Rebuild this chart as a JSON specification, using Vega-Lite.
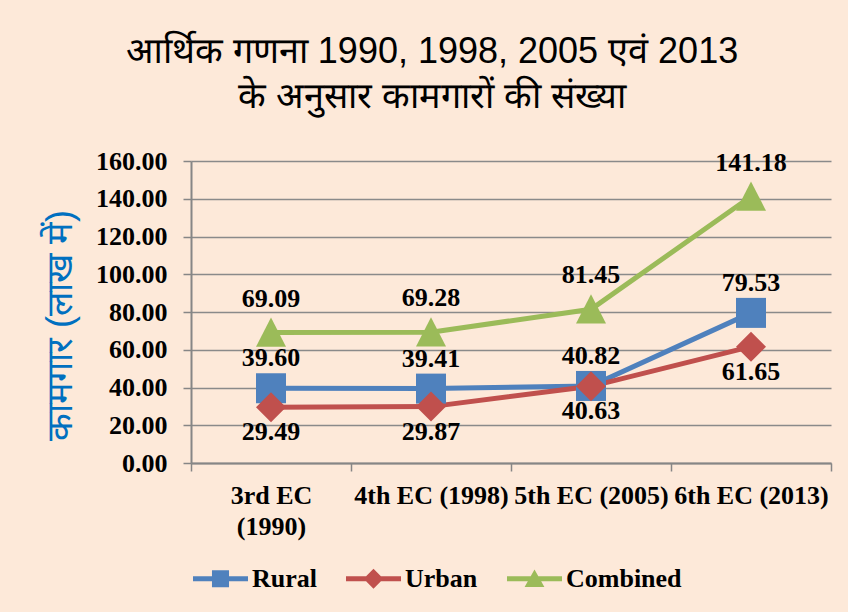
{
  "$schema": "https://vega.github.io/schema/vega-lite/v6.json",
  "autosize": "none",
  "width": 640,
  "height": 302,
  "padding": {"left": 191, "top": 161, "right": 17, "bottom": 149},
  "background": "#FDE9D9",
  "config": {"view": {"stroke": null}},
  "title": {
    "text": ["आर्थिक गणना 1990, 1998, 2005 एवं 2013", "के अनुसार कामगारों की संख्या"],
    "font": "Liberation Sans",
    "fontSize": 36,
    "fontWeight": "normal",
    "color": "#000000",
    "lineHeight": 45,
    "anchor": "middle",
    "frame": "group",
    "dx": -79,
    "offset": 32
  },
  "data": {
    "values": [
      {"ec": "3rd EC (1990)", "series": "Rural", "value": 39.60},
      {"ec": "4th EC (1998)", "series": "Rural", "value": 39.41},
      {"ec": "5th EC (2005)", "series": "Rural", "value": 40.82},
      {"ec": "6th EC (2013)", "series": "Rural", "value": 79.53},
      {"ec": "3rd EC (1990)", "series": "Urban", "value": 29.49},
      {"ec": "4th EC (1998)", "series": "Urban", "value": 29.87},
      {"ec": "5th EC (2005)", "series": "Urban", "value": 40.63},
      {"ec": "6th EC (2013)", "series": "Urban", "value": 61.65},
      {"ec": "3rd EC (1990)", "series": "Combined", "value": 69.09},
      {"ec": "4th EC (1998)", "series": "Combined", "value": 69.28},
      {"ec": "5th EC (2005)", "series": "Combined", "value": 81.45},
      {"ec": "6th EC (2013)", "series": "Combined", "value": 141.18}
    ]
  },
  "encoding": {
    "x": {
      "field": "ec", "type": "nominal", "sort": null,
      "scale": {"type": "band", "paddingInner": 0, "paddingOuter": 0},
      "axis": {
        "title": null,
        "labelAngle": 0,
        "labelFont": "Liberation Serif",
        "labelFontSize": 26,
        "labelFontWeight": "bold",
        "labelColor": "#000000",
        "labelPadding": 11,
        "labelLineHeight": 31,
        "labelOverlap": false,
        "labelBound": false,
        "labelLimit": 0,
        "labelExpr": "datum.label == '3rd EC (1990)' ? ['3rd EC', '(1990)'] : datum.label",
        "tickBand": "extent",
        "tickSize": 8,
        "tickColor": "#868686",
        "tickWidth": 1.5,
        "domainColor": "#868686",
        "domainWidth": 2,
        "grid": false
      }
    },
    "y": {
      "field": "value", "type": "quantitative",
      "scale": {"domain": [0, 160], "nice": false},
      "axis": {
        "title": "कामगार (लाख में)",
        "titleFontSize": 36,
        "titleColor": "#0070C0",
        "titleFontWeight": "normal",
        "titleAngle": -90,
        "titleAlign": "center",
        "titleBaseline": "middle",
        "titleX": -131,
        "titleY": 164,
        "values": [0, 20, 40, 60, 80, 100, 120, 140, 160],
        "format": ".2f",
        "labelFont": "Liberation Serif",
        "labelFontSize": 26,
        "labelFontWeight": "bold",
        "labelColor": "#000000",
        "labelPadding": 16,
        "tickSize": 8,
        "tickColor": "#868686",
        "tickWidth": 1.5,
        "domainColor": "#868686",
        "domainWidth": 2,
        "grid": true,
        "gridColor": "#8A8A8A",
        "gridWidth": 1.6
      }
    }
  },
  "layer": [
    {
      "mark": {"type": "line", "strokeWidth": 5},
      "encoding": {
        "color": {
          "field": "series", "type": "nominal",
          "scale": {"domain": ["Rural", "Urban", "Combined"], "range": ["#4F81BD", "#C0504D", "#9BBB59"]},
          "legend": {
            "title": null,
            "orient": "none",
            "legendX": 2,
            "legendY": 390,
            "padding": 0,
            "direction": "horizontal",
            "symbolType": "M-1,-0.09H1V0.09H-1Z",
            "symbolSize": 3025,
            "symbolStrokeWidth": 0,
            "labelFont": "Liberation Serif",
            "labelFontSize": 26,
            "labelFontWeight": "bold",
            "labelColor": "#000000",
            "labelOffset": 4,
            "columnPadding": 29,
            "encode": {
              "symbols": {
                "update": {
                  "shape": {"signal": "datum.value == 'Rural' ? 'M-1,-0.09H1V0.09H-1Z M-0.31,-0.31H0.31V0.31H-0.31Z' : datum.value == 'Urban' ? 'M-1,-0.09H1V0.09H-1Z M0,-0.36L0.36,0L0,0.36L-0.36,0Z' : 'M-1,-0.09H1V0.09H-1Z M0,-0.34L0.36,0.3L-0.36,0.3Z'"},
                  "fill": {"scale": "color", "field": "value"},
                  "strokeWidth": {"value": 0},
                  "opacity": {"value": 1}
                }
              }
            }
          }
        },
        "detail": {"field": "series"}
      }
    },
    {
      "transform": [{"filter": "datum.series == 'Rural'"}],
      "mark": {"type": "point", "shape": "square", "filled": true, "opacity": 1, "size": 900, "strokeWidth": 0},
      "encoding": {
        "fill": {"field": "series", "type": "nominal", "scale": {"domain": ["Rural", "Urban", "Combined"], "range": ["#4F81BD", "#C0504D", "#9BBB59"]}, "legend": null}
      }
    },
    {
      "transform": [{"filter": "datum.series == 'Urban'"}],
      "mark": {"type": "point", "shape": "diamond", "filled": true, "opacity": 1, "size": 900, "strokeWidth": 0},
      "encoding": {
        "fill": {"field": "series", "type": "nominal", "scale": {"domain": ["Rural", "Urban", "Combined"], "range": ["#4F81BD", "#C0504D", "#9BBB59"]}, "legend": null}
      }
    },
    {
      "transform": [{"filter": "datum.series == 'Combined'"}],
      "mark": {"type": "point", "shape": "M0,-1L1,0.95L-1,0.95Z", "filled": true, "opacity": 1, "size": 900, "strokeWidth": 0},
      "encoding": {
        "fill": {"field": "series", "type": "nominal", "scale": {"domain": ["Rural", "Urban", "Combined"], "range": ["#4F81BD", "#C0504D", "#9BBB59"]}, "legend": null}
      }
    },
    {
      "transform": [{"filter": "datum.series == 'Combined'"}],
      "mark": {"type": "text", "font": "Liberation Serif", "fontSize": 26, "fontWeight": "bold", "color": "#000000", "dy": -34, "baseline": "middle"},
      "encoding": {"text": {"field": "value", "type": "quantitative", "format": ".2f"}}
    },
    {
      "transform": [{"filter": "datum.series == 'Rural'"}],
      "mark": {"type": "text", "font": "Liberation Serif", "fontSize": 26, "fontWeight": "bold", "color": "#000000", "dy": -30, "baseline": "middle"},
      "encoding": {"text": {"field": "value", "type": "quantitative", "format": ".2f"}}
    },
    {
      "transform": [{"filter": "datum.series == 'Urban'"}],
      "mark": {"type": "text", "font": "Liberation Serif", "fontSize": 26, "fontWeight": "bold", "color": "#000000", "dy": 25, "baseline": "middle"},
      "encoding": {"text": {"field": "value", "type": "quantitative", "format": ".2f"}}
    }
  ]
}
